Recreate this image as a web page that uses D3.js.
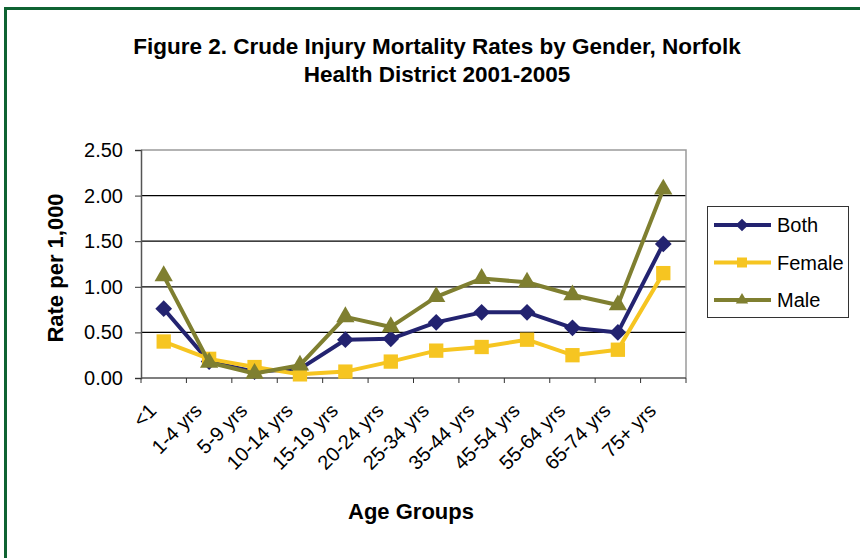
<!DOCTYPE html>
<html>
<head>
<meta charset="utf-8">
<script src="https://cdn.jsdelivr.net/npm/d3@7"></script>
<style>
  html, body { margin: 0; padding: 0; background: #fff; }
  svg { display: block; font-family: "Liberation Sans", Arial, sans-serif; }
</style>
</head>
<body>
<svg id="chart" width="860" height="558"></svg>
<script>
const categories = ["<1", "1-4 yrs", "5-9 yrs", "10-14 yrs", "15-19 yrs", "20-24 yrs", "25-34 yrs", "35-44 yrs", "45-54 yrs", "55-64 yrs", "65-74 yrs", "75+ yrs"];
const both   = [0.76, 0.18, 0.07, 0.10, 0.42, 0.43, 0.61, 0.72, 0.72, 0.55, 0.50, 1.47];
const female = [0.40, 0.21, 0.12, 0.04, 0.07, 0.18, 0.30, 0.34, 0.42, 0.25, 0.31, 1.15];
const male   = [1.12, 0.17, 0.05, 0.14, 0.67, 0.56, 0.89, 1.09, 1.05, 0.91, 0.80, 2.07];
const yTicks = [0, 0.5, 1.0, 1.5, 2.0, 2.5];
const seriesNames = ["Both", "Female", "Male"];
const titleLines = ["Figure 2. Crude Injury Mortality Rates by Gender, Norfolk", "Health District 2001-2005"];

const diamond = {
  draw(ctx, size) {
    const r = Math.sqrt(size / 2);
    ctx.moveTo(0, -r); ctx.lineTo(r, 0); ctx.lineTo(0, r); ctx.lineTo(-r, 0); ctx.closePath();
  }
};

const series = [
  { name: seriesNames[0], values: both,   color: "#232370", shape: diamond,          size: 140, lsize: 80 },
  { name: seriesNames[1], values: female, color: "#F6C521", shape: d3.symbolSquare,   size: 205, lsize: 100 },
  { name: seriesNames[2], values: male,   color: "#7F7F30", shape: d3.symbolTriangle, size: 145, lsize: 65 }
];

const svg = d3.select("#chart");
const W = 860, H = 558;
const plot = { left: 141, right: 686, top: 150, bottom: 378 };

// outer green frame
svg.append("rect").attr("x", 5.5).attr("y", 8.5).attr("width", W + 10).attr("height", H + 10)
  .attr("fill", "none").attr("stroke", "#0F6332").attr("stroke-width", 3);

// title
const title = svg.append("text").attr("text-anchor", "middle")
  .attr("font-weight", "bold").attr("font-size", 22.5).attr("fill", "#000");
titleLines.forEach((t, i) => {
  title.append("tspan").attr("x", 437).attr("y", 54 + i * 28).text(t);
});

const x = d3.scaleBand().domain(categories).range([plot.left, plot.right]).padding(0);
const y = d3.scaleLinear().domain([0, 2.5]).range([plot.bottom, plot.top]);

// gridlines
svg.append("g").selectAll("line").data(yTicks.filter(v => v > 0 && v < 2.5)).join("line")
  .attr("x1", plot.left).attr("x2", plot.right)
  .attr("y1", d => y(d)).attr("y2", d => y(d))
  .attr("stroke", "#000").attr("stroke-width", 1.2);

// plot border top & right (grey)
svg.append("path")
  .attr("d", `M${plot.left},${plot.top}H${plot.right}V${plot.bottom}`)
  .attr("fill", "none").attr("stroke", "#9a9a9a").attr("stroke-width", 1.5);

// y axis
const yAxis = d3.axisLeft(y).tickValues(yTicks).tickFormat(d3.format(".2f")).tickSize(6).tickPadding(12);
const gy = svg.append("g").attr("transform", `translate(${plot.left},0)`).call(yAxis);
gy.select(".domain").attr("stroke", "#555").attr("stroke-width", 1.5);
gy.selectAll(".tick line").attr("stroke", "#333");
gy.selectAll(".tick text").attr("font-size", 20).attr("fill", "#000")
  .attr("font-family", "Liberation Sans, Arial, sans-serif");

// x axis: ticks at category boundaries
const gx = svg.append("g").attr("transform", `translate(0,${plot.bottom})`);
gx.append("line").attr("x1", plot.left).attr("x2", plot.right).attr("stroke", "#555").attr("stroke-width", 1.5);
const bounds = categories.map(c => x(c)).concat([plot.right]);
gx.selectAll("line.tk").data(bounds).join("line").attr("class", "tk")
  .attr("x1", d => d).attr("x2", d => d).attr("y1", 0).attr("y2", 5)
  .attr("stroke", "#333");
gx.selectAll("text").data(categories).join("text")
  .attr("text-anchor", "end")
  .attr("font-size", 20)
  .attr("transform", d => `translate(${x(d) + x.bandwidth() / 2 - 6},${34}) rotate(-45)`)
  .text(d => d);

// lines & markers
const line = d3.line().x((d, i) => x(categories[i]) + x.bandwidth() / 2).y(d => y(d));
series.forEach(s => {
  const g = svg.append("g");
  g.append("path").attr("d", line(s.values)).attr("fill", "none")
    .attr("stroke", s.color).attr("stroke-width", 4).attr("stroke-linejoin", "round");
  g.selectAll("path.m").data(s.values).join("path").attr("class", "m")
    .attr("d", d3.symbol().type(s.shape).size(s.size))
    .attr("transform", (d, i) => `translate(${x(categories[i]) + x.bandwidth() / 2},${y(d)})`)
    .attr("fill", s.color);
});

// axis titles
svg.append("text").attr("font-weight", "bold").attr("font-size", 22)
  .attr("text-anchor", "middle")
  .attr("transform", `translate(63,268) rotate(-90)`).text("Rate per 1,000");
svg.append("text").attr("font-weight", "bold").attr("font-size", 22)
  .attr("text-anchor", "middle").attr("x", 411).attr("y", 519).text("Age Groups");

// legend
const lg = svg.append("g");
lg.append("rect").attr("x", 707.5).attr("y", 206.5).attr("width", 141).attr("height", 111)
  .attr("fill", "#fff").attr("stroke", "#333").attr("stroke-width", 1);
series.forEach((s, i) => {
  const cy = 225 + i * 37.5;
  lg.append("line").attr("x1", 714).attr("x2", 771).attr("y1", cy).attr("y2", cy)
    .attr("stroke", s.color).attr("stroke-width", 4);
  lg.append("path").attr("d", d3.symbol().type(s.shape).size(s.lsize))
    .attr("transform", `translate(742,${cy})`).attr("fill", s.color);
  lg.append("text").attr("x", 777).attr("y", cy).attr("dy", "0.36em")
    .attr("font-size", 20).text(s.name);
});
</script>
</body>
</html>
